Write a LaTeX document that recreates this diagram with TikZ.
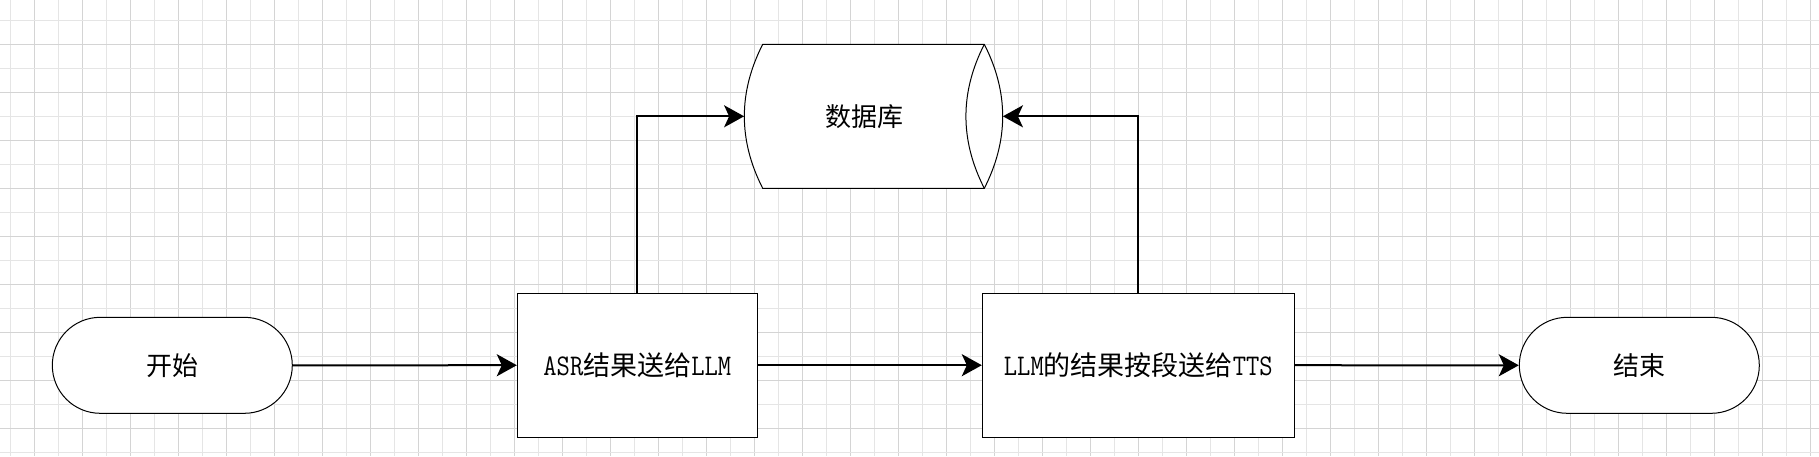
\documentclass[tikz,border=0pt]{standalone}
\usepackage{fontspec}
\setmainfont{Liberation Serif}
\newfontfamily\cjk{Noto Sans CJK SC}
\newfontfamily\lat[FakeStretch=0.86]{Latin Modern Mono}
\usetikzlibrary{arrows.meta}
\newcommand{\en}[1]{{\fontsize{30}{32}\lat #1}}

\begin{document}
\begin{tikzpicture}[x=1pt, y=-1pt,
	terminal/.style={draw, line width=1pt, fill=white, rectangle, rounded corners=48pt, minimum width=240pt, minimum height=96pt, inner sep=0pt, font=\cjk\fontsize{26}{30}\selectfont},
	process/.style={draw, line width=1pt, fill=white, minimum height=143.7pt, inner sep=0pt, font=\cjk\fontsize{27}{32}\selectfont},
	flow/.style={line width=2pt, -{Stealth[length=20pt, width=22pt, inset=5pt]}}]
		%%%%% START %%%%%
		
		\useasboundingbox[fill=white] (0, 0) rectangle (1819, 456);
		
		\foreach \gx in {10.3, 58.3, ..., 1819} \draw[line width=1pt, color=black!10] (\gx, 0) -- (\gx, 456);
		\foreach \gx in {34.3, 82.3, ..., 1819} \draw[line width=1pt, color=black!17] (\gx, 0) -- (\gx, 456);
		\foreach \gy in {20.3, 68.3, ..., 456} \draw[line width=1pt, color=black!10] (0, \gy) -- (1819, \gy);
		\foreach \gy in {44.3, 92.3, ..., 456} \draw[line width=1pt, color=black!17] (0, \gy) -- (1819, \gy);
		
		\node[terminal] (start) at (172.3, 365.3) {开始};
		\node[process, minimum width=240pt] (asr) at (637.3, 365.2) {\en{ASR}结果送给\en{LLM}};
		\node[process, minimum width=312pt] (llm) at (1138.3, 365.2) {\en{LLM}的结果按段送给\en{TTS}};
		\node[terminal] (stop) at (1639.3, 365.3) {结束};
		
		\draw[line width=1pt, fill=white] (762.7, 44.3) -- (984.3, 44.3) .. controls (1008.8, 92.3) and (1008.8, 140.3) .. (984.3, 188.3) -- (762.7, 188.3) .. controls (738.2, 140.3) and (738.2, 92.3) .. cycle;
		\draw[line width=1pt] (984.3, 44.3) .. controls (959.8, 92.3) and (959.8, 140.3) .. (984.3, 188.3);
		\node[minimum width=258.4pt, minimum height=144pt, inner sep=0pt, font=\cjk\fontsize{26}{30}\selectfont] (db) at (873.5, 116.3) {数据库\hspace*{19pt}};
		
		\draw[flow] (start) -- (asr);
		\draw[flow] (asr) -- (llm);
		\draw[flow] (llm) -- (stop);
		\draw[flow] (asr.north) |- (db.west);
		\draw[flow] (llm.north) |- (db.east);
		
		%%%%% END %%%%%
\end{tikzpicture}
\end{document}
